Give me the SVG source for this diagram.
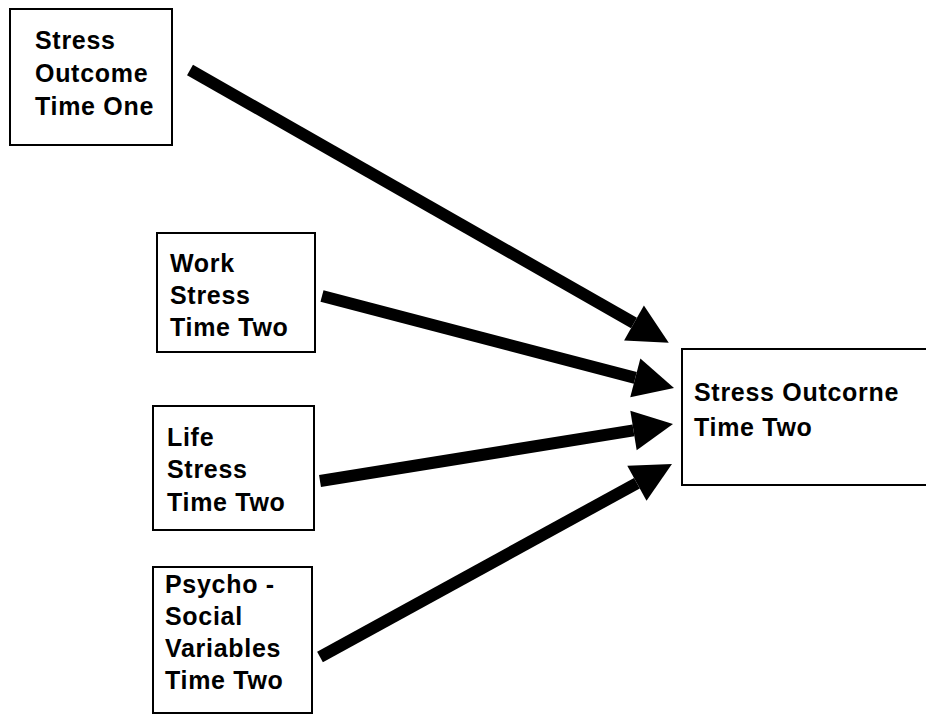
<svg xmlns="http://www.w3.org/2000/svg" width="926" height="715" viewBox="0 0 926 715">
  <style>
    .box { fill: #ffffff; stroke: #000000; stroke-width: 2; }
    .label { font-family: "Liberation Sans", Arial, sans-serif; font-weight: bold; font-size: 25px; letter-spacing: 0.7px; fill: #000000; }
    .arrow { fill: none; stroke: #000000; stroke-width: 12; stroke-linecap: butt; marker-end: url(#head); }
  </style>
  <defs>
    <marker id="head" markerUnits="userSpaceOnUse" markerWidth="42" markerHeight="42" refX="0" refY="20" orient="auto" overflow="visible">
      <path d="M0,0 L40,20 L0,40 Z" fill="#000000"/>
    </marker>
  </defs>
  <rect width="926" height="715" fill="#ffffff"/>

  <g id="stress-outcome-t1">
    <rect class="box" x="10" y="9" width="162" height="136"/>
    <text class="label" x="35" y="49">Stress</text>
    <text class="label" x="35" y="82">Outcome</text>
    <text class="label" x="35" y="115">Time One</text>
  </g>

  <g id="work-stress-t2">
    <rect class="box" x="157" y="233" width="158" height="119"/>
    <text class="label" x="170" y="272">Work</text>
    <text class="label" x="170" y="304">Stress</text>
    <text class="label" x="170" y="336">Time Two</text>
  </g>

  <g id="life-stress-t2">
    <rect class="box" x="153" y="406" width="161" height="124"/>
    <text class="label" x="167" y="446">Life</text>
    <text class="label" x="167" y="478">Stress</text>
    <text class="label" x="167" y="511">Time Two</text>
  </g>

  <g id="psychosocial-t2">
    <rect class="box" x="153" y="567" width="159" height="146"/>
    <text class="label" x="165" y="593">Psycho -</text>
    <text class="label" x="165" y="625">Social</text>
    <text class="label" x="165" y="657">Variables</text>
    <text class="label" x="165" y="689">Time Two</text>
  </g>

  <g id="stress-outcome-t2">
    <rect class="box" x="682" y="349" width="260" height="136"/>
    <text class="label" x="694" y="401">Stress Outcorne</text>
    <text class="label" x="694" y="436">Time Two</text>
  </g>

  <g id="connectors">
    <line class="arrow" x1="190" y1="70" x2="634" y2="323"/>
    <line class="arrow" x1="322" y1="296" x2="635.3" y2="377.9"/>
    <line class="arrow" x1="320" y1="481" x2="633.5" y2="430.4"/>
    <line class="arrow" x1="320" y1="657" x2="636.9" y2="483.2"/>
  </g>
</svg>
